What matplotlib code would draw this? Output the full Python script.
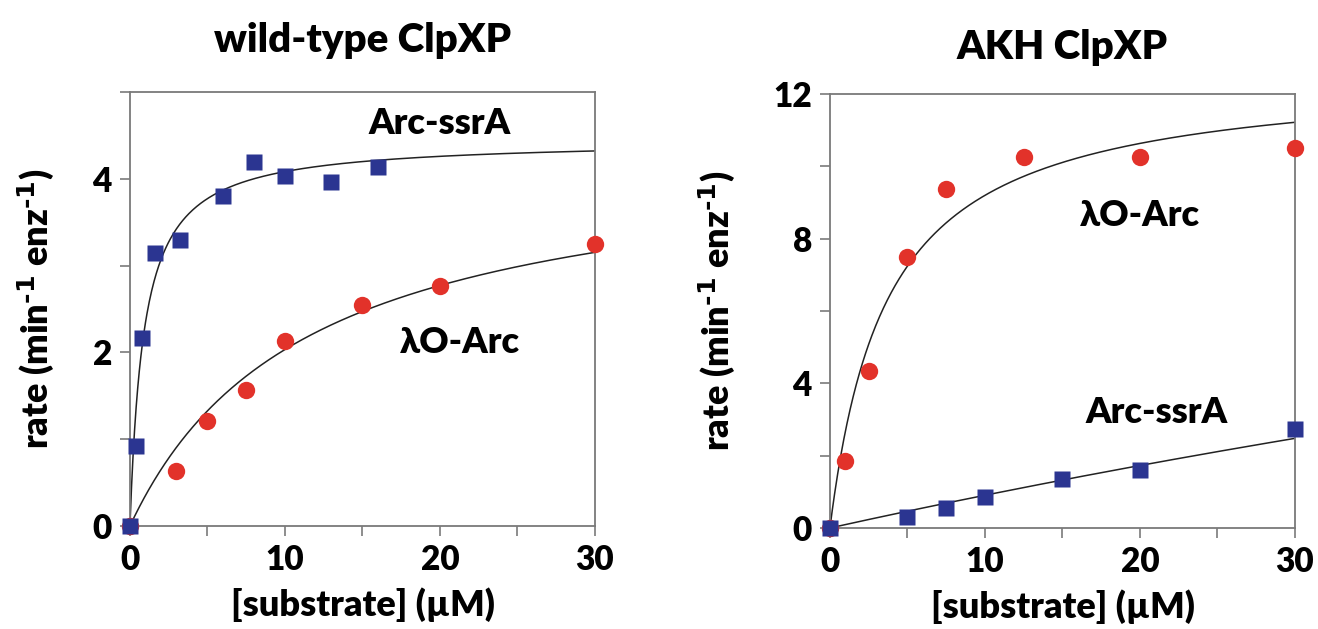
import numpy as np
import matplotlib
matplotlib.use('Agg')
import matplotlib.pyplot as plt
from matplotlib.ticker import MultipleLocator

plt.rcParams['font.family'] = ['Lato', 'DejaVu Sans']
plt.rcParams['font.weight'] = 'heavy'
plt.rcParams['mathtext.default'] = 'regular'

# ============ DATA ============
# wild-type ClpXP
wt_ssra_x = [0, 0.4, 0.8, 1.6, 3.2, 6, 8, 10, 13, 16]
wt_ssra_y = [0, 0.92, 2.17, 3.15, 3.29, 3.80, 4.19, 4.03, 3.96, 4.13]
wt_lo_x = [0, 3, 5, 7.5, 10, 15, 20, 30]
wt_lo_y = [0, 0.63, 1.21, 1.57, 2.13, 2.54, 2.76, 3.25]

# AKH ClpXP
akh_lo_x = [0, 1, 2.5, 5, 7.5, 12.5, 20, 30]
akh_lo_y = [0, 1.85, 4.34, 7.5, 9.36, 10.25, 10.25, 10.5]
akh_ssra_x = [0, 5, 7.5, 10, 15, 20, 30]
akh_ssra_y = [0, 0.31, 0.56, 0.85, 1.35, 1.60, 2.74]

# Michaelis-Menten fit parameters (Vmax, Km)
wt_ssra_fit = (4.45, 0.9)
wt_lo_fit = (4.35, 11.4)
akh_lo_fit = (12.6, 3.7)
akh_ssra_fit = (19.0, 200.0)

BLUE = '#2b3591'
RED = '#e2322a'
SPINE = '#7a7a7a'
W = 'heavy'
YLABEL = r'rate (min$^{\text{-1}}$ enz$^{\text{-1}}$)'


def mm(s, vmax, km):
    return vmax * s / (km + s)


fig = plt.figure(figsize=(13.18, 6.29), dpi=100)
ax1 = fig.add_axes([0.0986, 0.1638, 0.3528, 0.690])
ax2 = fig.add_axes([0.6297, 0.1606, 0.3528, 0.690])

s = np.linspace(0, 30, 600)


def style(ax, ymax, ymajor, yminor):
    ax.set_xlim(0, 30)
    ax.set_ylim(0, ymax)
    ax.xaxis.set_major_locator(MultipleLocator(10))
    ax.xaxis.set_minor_locator(MultipleLocator(5))
    ax.yaxis.set_major_locator(MultipleLocator(ymajor))
    ax.yaxis.set_minor_locator(MultipleLocator(yminor))
    for sp in ax.spines.values():
        sp.set_color(SPINE)
        sp.set_linewidth(1.3)
    ax.tick_params(which='both', direction='out', length=7, width=1.2,
                   color=SPINE, labelsize=24, pad=6)
    for lab in ax.get_xticklabels() + ax.get_yticklabels():
        lab.set_fontweight(W)
    ax.set_xlabel('[substrate] (µM)', fontsize=26, fontweight=W, labelpad=8)
    ax.set_ylabel(YLABEL, fontsize=26, fontweight=W, labelpad=26)


# left panel
ax1.plot(s, mm(s, *wt_ssra_fit), color='#222222', lw=1.1, zorder=2)
ax1.plot(s, mm(s, *wt_lo_fit), color='#222222', lw=1.1, zorder=2)
ax1.plot(wt_lo_x, wt_lo_y, 'o', color=RED, ms=12.5, mec='none', zorder=3,
         clip_on=False)
ax1.plot(wt_ssra_x, wt_ssra_y, 's', color=BLUE, ms=11, mec='none',
         zorder=4, clip_on=False)
ax1.text(20, 4.64, 'Arc-ssrA', fontsize=26, fontweight=W,
         ha='center', va='center')
ax1.text(21.3, 2.11, 'λO-Arc', fontsize=26, fontweight=W,
         ha='center', va='center')
style(ax1, 5, 2, 1)
ax1.set_title('wild-type ClpXP', fontsize=29, fontweight=W, pad=29)

# right panel
ax2.plot(s, mm(s, *akh_lo_fit), color='#222222', lw=1.1, zorder=2)
ax2.plot(s, mm(s, *akh_ssra_fit), color='#222222', lw=1.1, zorder=2)
ax2.plot(akh_lo_x, akh_lo_y, 'o', color=RED, ms=12.5, mec='none', zorder=3,
         clip_on=False)
ax2.plot(akh_ssra_x, akh_ssra_y, 's', color=BLUE, ms=11, mec='none',
         zorder=4, clip_on=False)
ax2.text(20.0, 8.65, 'λO-Arc', fontsize=26, fontweight=W,
         ha='center', va='center')
ax2.text(21.1, 3.18, 'Arc-ssrA', fontsize=26, fontweight=W,
         ha='center', va='center')
style(ax2, 12, 4, 2)
ax2.set_title('AKH ClpXP', fontsize=29, fontweight=W, pad=25)

fig.savefig('out.png', dpi=100)
